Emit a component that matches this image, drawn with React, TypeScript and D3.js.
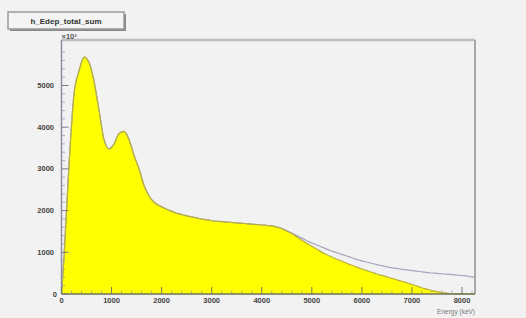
import React from "react";
import * as d3 from "d3";

const W = 526;
const H = 318;

const binWidth = 100; // keV
// filled histogram (yellow), counts in units of 10^3 per 100 keV bin
const filledCounts = [
  900, 3100, 4800, 5350, 5680, 5550, 5100, 4400, 3700, 3480,
  3600, 3850, 3900, 3700, 3320, 3000, 2600, 2350, 2200, 2120,
  2060, 2010, 1960, 1920, 1890, 1860, 1840, 1810, 1790, 1770,
  1750, 1740, 1730, 1720, 1710, 1700, 1690, 1680, 1670, 1660,
  1650, 1640, 1620, 1590, 1540, 1480, 1410, 1330, 1250, 1180,
  1110, 1040, 970, 910, 860, 810, 760, 710, 670, 620,
  580, 540, 500, 460, 430, 390, 360, 320, 290, 250,
  210, 170, 130, 100, 70, 45, 25, 12, 5, 2,
  0, 0, 0,
];
// outline histogram (gray line)
const lineCounts = [
  900, 3100, 4800, 5350, 5680, 5550, 5100, 4400, 3700, 3480,
  3600, 3850, 3900, 3700, 3320, 3000, 2600, 2350, 2200, 2120,
  2060, 2010, 1960, 1920, 1890, 1860, 1840, 1810, 1790, 1770,
  1750, 1740, 1730, 1720, 1710, 1700, 1690, 1680, 1670, 1660,
  1650, 1640, 1620, 1590, 1545, 1490, 1430, 1370, 1310, 1250,
  1200, 1150, 1100, 1050, 1010, 970, 930, 890, 850, 810,
  780, 750, 720, 690, 665, 640, 620, 600, 585, 570,
  555, 540, 525, 510, 500, 490, 480, 470, 460, 450,
  440, 420, 400,
];

const xTicks = [0, 1000, 2000, 3000, 4000, 5000, 6000, 7000, 8000];
const yTicks = [0, 1000, 2000, 3000, 4000, 5000];
const titleText = "h_Edep_total_sum";
const xTitle = "Energy (keV)";
const yExponent = "×10³";

const FONT = "'Liberation Sans', Arial, sans-serif";

export default function App() {
  const left = 61.5, right = 475, top = 40, bottom = 294;
  const xMax = 8260;
  const x = d3.scaleLinear().domain([0, xMax]).range([left, right]);
  const y = d3.scaleLinear().domain([0, 6091]).range([bottom, top]);

  const centers = (arr: number[]): [number, number][] => [
    [x(0), y(0)],
    ...arr.map((v, i) => [x(Math.min((i + 0.5) * binWidth, xMax)), y(v)] as [number, number]),
    [x(xMax), y(arr[arr.length - 1])],
  ];

  const filledData = centers(filledCounts);
  const grayData = centers(lineCounts);

  const area = d3
    .area<[number, number]>()
    .x((d) => d[0])
    .y0(y(0))
    .y1((d) => d[1])
    .curve(d3.curveMonotoneX);
  const line = d3
    .line<[number, number]>()
    .x((d) => d[0])
    .y((d) => d[1])
    .curve(d3.curveMonotoneX);

  // minor ticks
  const yMinor = d3.range(0, 6001, 200).filter((v) => v % 1000 !== 0);
  const xMinor = d3.range(0, 8201, 200).filter((v) => v % 1000 !== 0);

  return (
    <div style={{ position: "absolute", left: 0, top: 0, width: W, height: H }}>
      <svg width={W} height={H} style={{ display: "block" }}>
        <rect x={0} y={0} width={W} height={H} fill="#f2f2f2" />
        {/* histograms */}
        <path d={area(filledData) || ""} fill="#ffff00" />
        <path d={line(grayData) || ""} fill="none" stroke="#a4a4bc" strokeWidth={1.2} />
        <path d={line(filledData) || ""} fill="none" stroke="#b8b040" strokeWidth={1.2} />
        {/* frame */}
        <line x1={left} x2={right} y1={top} y2={top} stroke="#bdbdbd" strokeWidth={2.5} />
        <line x1={right} x2={right} y1={top} y2={bottom} stroke="#a8a8a8" strokeWidth={2} />
        <line x1={left} x2={left} y1={top} y2={bottom} stroke="#8c8ca4" strokeWidth={1.5} />
        <line x1={left} x2={right} y1={bottom} y2={bottom} stroke="#70705a" strokeWidth={1.5} />
        {/* y ticks */}
        {yTicks.map((t) => (
          <g key={"y" + t}>
            <line x1={left} x2={left + 7} y1={y(t)} y2={y(t)} stroke="#7a7a90" strokeWidth={1} />
            <text
              x={t === 0 ? 57 : 54}
              y={y(t) + 2.5}
              textAnchor="end"
              fontFamily={FONT}
              fontSize={7.5}
              fontWeight="bold"
              fill="#444"
            >
              {t}
            </text>
          </g>
        ))}
        {yMinor.map((t) => (
          <line key={"ym" + t} x1={left} x2={left + 3.5} y1={y(t)} y2={y(t)} stroke="#9a9ab0" strokeWidth={0.8} />
        ))}
        <text x={left} y={top - 1} fontFamily={FONT} fontSize={7.5} fontWeight="bold" fill="#555">
          {yExponent}
        </text>
        {/* x ticks */}
        {xTicks.map((t) => (
          <g key={"x" + t}>
            <line x1={x(t)} x2={x(t)} y1={bottom} y2={bottom - 7} stroke="#7a7a70" strokeWidth={1} />
            <text
              x={x(t)}
              y={303}
              textAnchor="middle"
              fontFamily={FONT}
              fontSize={7.5}
              fontWeight="bold"
              fill="#444"
            >
              {t}
            </text>
          </g>
        ))}
        {xMinor.map((t) => (
          <line key={"xm" + t} x1={x(t)} x2={x(t)} y1={bottom} y2={bottom - 3.5} stroke="#9a9a90" strokeWidth={0.8} />
        ))}
        <text x={right} y={314} textAnchor="end" fontFamily={FONT} fontSize={6.5} fill="#777">
          {xTitle}
        </text>
        {/* title box */}
        <rect x={10} y={14} width={116} height={17} fill="#888" />
        <rect x={8} y={12} width={116} height={17} fill="#f4f4f4" stroke="#9a9a9a" strokeWidth={1.5} />
        <text x={66} y={23.5} textAnchor="middle" fontFamily={FONT} fontSize={8} fontWeight="bold" fill="#333">
          {titleText}
        </text>
      </svg>
    </div>
  );
}
